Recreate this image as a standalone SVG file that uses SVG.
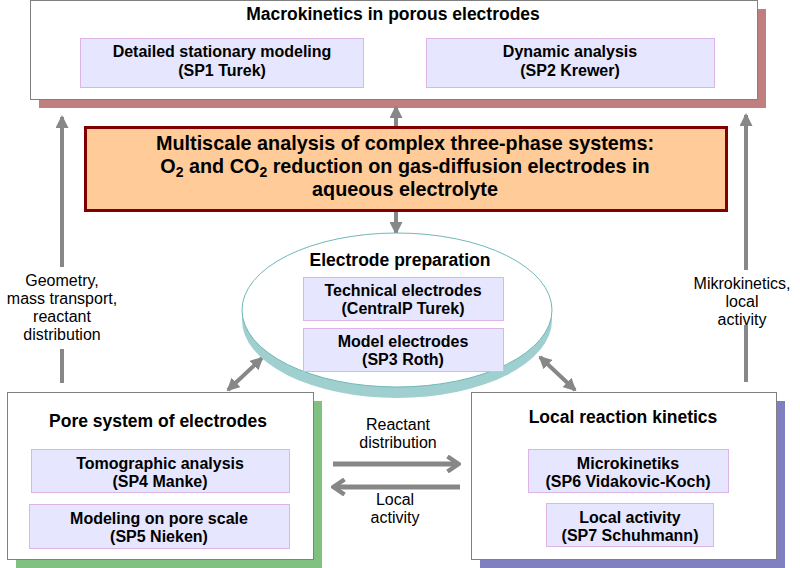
<svg xmlns="http://www.w3.org/2000/svg" width="800" height="568" viewBox="0 0 800 568">
<style>
.box{fill:#ffffff;stroke:#808080;stroke-width:1}
.sub{fill:#e6e6ff;stroke:#dcb4e6;stroke-width:1}
.t{font-family:"Liberation Sans",Arial,sans-serif;fill:#000;text-anchor:middle}
.b16{font-size:17.5px;font-weight:bold}
.b14{font-size:16px;font-weight:bold}
.b18{font-size:19.8px;font-weight:bold}
.r14{font-size:16px}
.arr{stroke:#878787;stroke-width:4;fill:none}
.arrh{stroke:#878787;stroke-width:5;fill:none}
</style>
<defs>
<marker id="tri" viewBox="0 0 13 13" refX="11" refY="6.5" markerWidth="13" markerHeight="13" markerUnits="userSpaceOnUse" orient="auto-start-reverse">
<path d="M0,0 L13,6.5 L0,13 z" fill="#878787"/>
</marker>
<marker id="chev" viewBox="0 0 15 18" refX="13" refY="9" markerWidth="15" markerHeight="18" markerUnits="userSpaceOnUse" orient="auto-start-reverse">
<path d="M1.5,1.5 L12.5,9 L1.5,16.5" fill="none" stroke="#878787" stroke-width="4.5" stroke-linejoin="miter"/>
</marker>
</defs>

<g id="macrokinetics">
<rect x="39" y="9" width="727" height="99" fill="#c07f7f"/>
<rect class="box" x="30.5" y="0.5" width="727" height="99"/>
<text class="t b16" x="393" y="20">Macrokinetics in porous electrodes</text>
<g id="sp1">
<rect class="sub" x="80.5" y="38.5" width="283" height="49"/>
<text class="t b14" x="222" y="57">Detailed stationary modeling</text>
<text class="t b14" x="222" y="76">(SP1 Turek)</text>
</g>
<g id="sp2">
<rect class="sub" x="426.5" y="38.5" width="288" height="49"/>
<text class="t b14" x="570" y="57">Dynamic analysis</text>
<text class="t b14" x="570" y="76">(SP2 Krewer)</text>
</g>
</g>

<g id="connectors">
<line class="arr" x1="62" y1="267" x2="62" y2="117" marker-end="url(#tri)"/>
<line class="arr" x1="62" y1="349" x2="62" y2="383"/>
<line class="arr" x1="746" y1="270" x2="746" y2="115" marker-end="url(#tri)"/>
<line class="arr" x1="746" y1="325" x2="746" y2="382"/>
<line class="arr" x1="396" y1="127" x2="396" y2="107" marker-end="url(#tri)"/>
<line class="arr" x1="396" y1="212" x2="396" y2="233" marker-end="url(#tri)"/>
<line class="arr" x1="228" y1="390" x2="262" y2="358" marker-start="url(#tri)" marker-end="url(#tri)"/>
<line class="arr" x1="540" y1="357" x2="575" y2="390" marker-start="url(#tri)" marker-end="url(#tri)"/>
<line class="arrh" x1="333" y1="464" x2="459" y2="464" marker-end="url(#chev)"/>
<line class="arrh" x1="460" y1="487" x2="333" y2="487" marker-end="url(#chev)"/>
<text class="t r14" x="62" y="286">Geometry,</text>
<text class="t r14" x="62" y="304">mass transport,</text>
<text class="t r14" x="62" y="322">reactant</text>
<text class="t r14" x="62" y="340">distribution</text>
<text class="t r14" x="742" y="289">Mikrokinetics,</text>
<text class="t r14" x="742" y="307">local</text>
<text class="t r14" x="742" y="325">activity</text>
<text class="t r14" x="398" y="430">Reactant</text>
<text class="t r14" x="398" y="448">distribution</text>
<text class="t r14" x="395" y="505">Local</text>
<text class="t r14" x="395" y="523">activity</text>
</g>

<g id="multiscale">
<rect x="85.5" y="127.5" width="641" height="83" fill="#ffcc99" stroke="#800000" stroke-width="3"/>
<text class="t b18" x="405" y="150">Multiscale analysis of complex three-phase systems:</text>
<text class="t b18" x="405" y="173">O<tspan font-size="14" dy="4">2</tspan><tspan dy="-4"> and CO</tspan><tspan font-size="14" dy="4">2</tspan><tspan dy="-4"> reduction on gas-diffusion electrodes in</tspan></text>
<text class="t b18" x="405" y="196">aqueous electrolyte</text>
</g>

<g id="electrode-preparation">
<path d="M242,310 L242,320 A155,78 0 0 0 552,320 L552,310 Z" fill="#9fcfcf"/>
<ellipse cx="397" cy="310" rx="155" ry="77" fill="#ffffff" stroke="#6fb8b8" stroke-width="1"/>
<text class="t b16" x="400" y="266">Electrode preparation</text>
<g id="centralp">
<rect class="sub" x="303.5" y="277.5" width="200" height="43"/>
<text class="t b14" x="403" y="296">Technical electrodes</text>
<text class="t b14" x="403" y="314">(CentralP Turek)</text>
</g>
<g id="sp3">
<rect class="sub" x="303.5" y="328.5" width="200" height="43"/>
<text class="t b14" x="403" y="347">Model electrodes</text>
<text class="t b14" x="403" y="365">(SP3 Roth)</text>
</g>
</g>

<g id="pore-system">
<rect x="16" y="401" width="306" height="167" fill="#80c080"/>
<rect class="box" x="7.5" y="392.5" width="306" height="167"/>
<text class="t b16" x="158" y="427">Pore system of electrodes</text>
<g id="sp4">
<rect class="sub" x="31.5" y="449.5" width="258" height="43"/>
<text class="t b14" x="160" y="469">Tomographic analysis</text>
<text class="t b14" x="160" y="487">(SP4 Manke)</text>
</g>
<g id="sp5">
<rect class="sub" x="29.5" y="504.5" width="260" height="44"/>
<text class="t b14" x="159" y="524">Modeling on pore scale</text>
<text class="t b14" x="159" y="542">(SP5 Nieken)</text>
</g>
</g>

<g id="local-kinetics">
<rect x="480" y="401" width="305" height="167" fill="#8080c0"/>
<rect class="box" x="471.5" y="392.5" width="305" height="167"/>
<text class="t b16" x="623" y="423">Local reaction kinetics</text>
<g id="sp6">
<rect class="sub" x="528.5" y="449.5" width="200" height="43"/>
<text class="t b14" x="628" y="469">Microkinetiks</text>
<text class="t b14" x="628" y="487">(SP6 Vidakovic-Koch)</text>
</g>
<g id="sp7">
<rect class="sub" x="546.5" y="503.5" width="167" height="43"/>
<text class="t b14" x="630" y="523">Local activity</text>
<text class="t b14" x="630" y="541">(SP7 Schuhmann)</text>
</g>
</g>
</svg>
